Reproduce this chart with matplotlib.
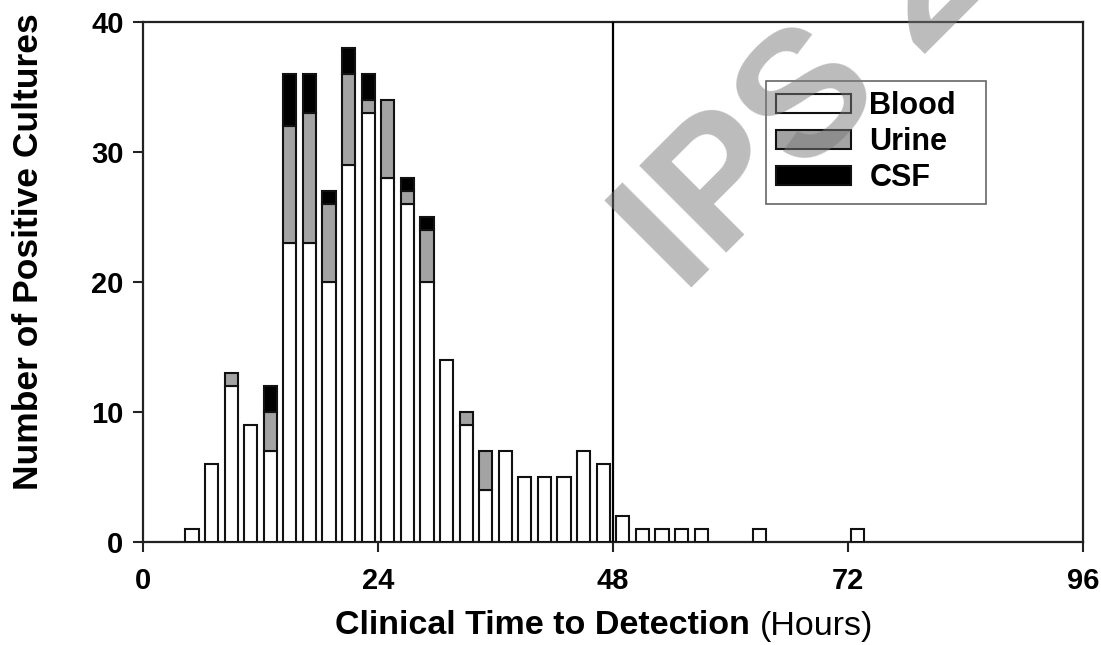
import numpy as np
import matplotlib
matplotlib.use("Agg")
import matplotlib.pyplot as plt
from matplotlib.patches import Patch, Rectangle

plt.rcParams['font.family'] = ['Liberation Sans', 'DejaVu Sans']

# bin centres (hours) and counts per specimen type
hours = [5, 7, 9, 11, 13, 15, 17, 19, 21, 23, 25, 27, 29, 31, 33, 35, 37, 39, 41, 43, 45, 47,
         49, 51, 53, 55, 57, 63, 73]
blood = [1, 6, 12, 9, 7, 23, 23, 20, 29, 33, 28, 26, 20, 14, 9, 4, 7, 5, 5, 5, 7, 6,
         2, 1, 1, 1, 1, 1, 1]
urine = [0, 0, 1, 0, 3, 9, 10, 6, 7, 1, 6, 1, 4, 0, 1, 3, 0, 0, 0, 0, 0, 0,
         0, 0, 0, 0, 0, 0, 0]
csf = [0, 0, 0, 0, 2, 4, 3, 1, 2, 2, 0, 1, 1, 0, 0, 0, 0, 0, 0, 0, 0, 0,
       0, 0, 0, 0, 0, 0, 0]
xticks = [0, 24, 48, 72, 96]
yticks = [0, 10, 20, 30, 40]

GRAY = '#a3a3a3'
EDGE = '#111111'

fig = plt.figure(figsize=(11.01, 6.45), dpi=100)
ax = fig.add_axes([143 / 1101, 103 / 645, 940 / 1101, 520 / 645])

h = np.array(hours, dtype=float)
b = np.array(blood, dtype=float)
u = np.array(urine, dtype=float)
c = np.array(csf, dtype=float)
w = 1.35

ax.bar(h, b, width=w, color='white', edgecolor=EDGE, linewidth=1.5, zorder=3)
m = u > 0
ax.bar(h[m], u[m], bottom=b[m], width=w, color=GRAY, edgecolor=EDGE, linewidth=1.5, zorder=3)
m = c > 0
ax.bar(h[m], c[m], bottom=(b + u)[m], width=w, color='black', edgecolor=EDGE, linewidth=1.5, zorder=3)

ax.axvline(48, color='black', linewidth=1.6, zorder=4)

ax.set_xlim(0, 96)
ax.set_ylim(0, 40)
ax.set_xticks(xticks)
ax.set_yticks(yticks)
ax.tick_params(direction='out', length=7, width=1.5, color='#222222', labelsize=21)
ax.tick_params(axis='x', pad=11)
ax.tick_params(axis='y', pad=7)
for lab in ax.get_xticklabels() + ax.get_yticklabels():
    lab.set_fontweight('bold')
for s in ax.spines.values():
    s.set_linewidth(1.6)
    s.set_color('#222222')

# legend box drawn by hand, entries without frame
ax.add_patch(Rectangle((0.6628, 0.65), 0.234, 0.2365, transform=ax.transAxes,
                       facecolor='white', edgecolor='#666666', linewidth=1.2, zorder=5))
handles = [Patch(facecolor='white', edgecolor=EDGE, linewidth=1.5, label='Blood'),
           Patch(facecolor=GRAY, edgecolor=EDGE, linewidth=1.5, label='Urine'),
           Patch(facecolor='black', edgecolor=EDGE, linewidth=1.5, label='CSF')]
leg = ax.legend(handles=handles, loc='upper left', bbox_to_anchor=(0.673, 0.867),
                prop={'weight': 'bold', 'size': 22}, frameon=False,
                handlelength=2.48, handleheight=0.59, handletextpad=0.59,
                labelspacing=0.2, borderpad=0, borderaxespad=0)
leg.set_zorder(6)

# y label
fig.text(29 / 1101, 1 - 252 / 645, 'Number of Positive Cultures', rotation=90,
         ha='center', va='center', fontsize=25.5, fontweight='bold')

# x label with mixed weight
fig.canvas.draw()
r = fig.canvas.get_renderer()
t1 = fig.text(0, 1 - 626 / 645, 'Clinical Time to Detection ', fontsize=24.5,
              fontweight='bold', va='center')
t2 = fig.text(0, 1 - 626 / 645, '(Hours)', fontsize=24.5, va='center')
w1 = t1.get_window_extent(r).width
w2 = t2.get_window_extent(r).width
x0 = 604 - (w1 + w2) / 2
t1.set_x(x0 / 1101)
t2.set_x((x0 + w1) / 1101)

# watermark
fig.text(684 / 1101, 1 - 296 / 645, 'IPS 2', rotation=45, rotation_mode='anchor',
         ha='left', va='baseline', fontsize=128, fontweight='bold', color='#7a7a7a',
         alpha=0.5, zorder=10)

fig.savefig('out.png', dpi=100)
